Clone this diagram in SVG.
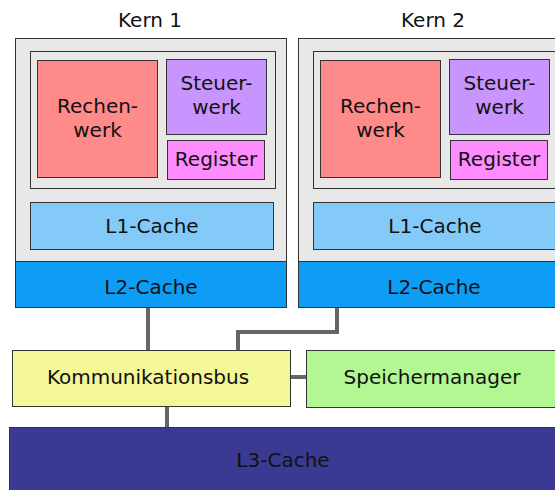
<svg xmlns="http://www.w3.org/2000/svg" width="555" height="490" viewBox="0 0 555 490">
<style>
text{font-family:"DejaVu Sans","Noto Sans",sans-serif;font-size:20px;fill:#111;text-anchor:middle}
rect{stroke:#333;stroke-width:1}
.outer{fill:#e8e8e8}
.rw{fill:#ff8a8a}
.sw{fill:#c895ff}
.reg{fill:#ff8cff}
.l1{fill:#84caf9}
.l2{fill:#0d9df5}
.bus{fill:#f3f796}
.mem{fill:#b2f792}
.l3{fill:#3a3a93}
.conn{fill:none;stroke:#666;stroke-width:4}
</style>
<g id="connectors">
<path class="conn" d="M148,307 V350"/>
<path class="conn" d="M337,307 V332 H238 V350"/>
<path class="conn" d="M291,377 H307"/>
<path class="conn" d="M167,407 V427"/>
</g>
<g id="kern1">
<text x="150" y="27">Kern 1</text>
<rect class="outer" x="15.5" y="38.5" width="271" height="269"/>
<rect class="outer" x="30.5" y="51.5" width="245" height="137"/>
<g id="rechenwerk1"><rect class="rw" x="37.5" y="60.5" width="120" height="117"/><text x="97.5" y="113">Rechen-</text><text x="97.5" y="137">werk</text></g>
<g id="steuerwerk1"><rect class="sw" x="166.5" y="59.5" width="100" height="75"/><text x="216.5" y="90">Steuer-</text><text x="216.5" y="114">werk</text></g>
<g id="register1"><rect class="reg" x="167.5" y="140.5" width="97" height="39"/><text x="216" y="166">Register</text></g>
<g id="l1cache1"><rect class="l1" x="30.5" y="202.5" width="243" height="47"/><text x="152" y="233">L1-Cache</text></g>
<g id="l2cache1"><rect class="l2" x="15.5" y="261.5" width="271" height="46"/><text x="151" y="294">L2-Cache</text></g>
</g>
<g id="kern2" transform="translate(283,0)">
<text x="150" y="27">Kern 2</text>
<rect class="outer" x="15.5" y="38.5" width="271" height="269"/>
<rect class="outer" x="30.5" y="51.5" width="245" height="137"/>
<g id="rechenwerk2"><rect class="rw" x="37.5" y="60.5" width="120" height="117"/><text x="97.5" y="113">Rechen-</text><text x="97.5" y="137">werk</text></g>
<g id="steuerwerk2"><rect class="sw" x="166.5" y="59.5" width="100" height="75"/><text x="216.5" y="90">Steuer-</text><text x="216.5" y="114">werk</text></g>
<g id="register2"><rect class="reg" x="167.5" y="140.5" width="97" height="39"/><text x="216" y="166">Register</text></g>
<g id="l1cache2"><rect class="l1" x="30.5" y="202.5" width="243" height="47"/><text x="152" y="233">L1-Cache</text></g>
<g id="l2cache2"><rect class="l2" x="15.5" y="261.5" width="271" height="46"/><text x="151" y="294">L2-Cache</text></g>
</g>
<g id="bus"><rect class="bus" x="12.5" y="350.5" width="278" height="56"/><text x="148" y="384">Kommunikationsbus</text></g>
<g id="speichermanager"><rect class="mem" x="306.5" y="350.5" width="252" height="57"/><text x="432" y="384">Speichermanager</text></g>
<g id="l3cache"><rect class="l3" x="9.5" y="427.5" width="550" height="70"/><text x="283" y="467">L3-Cache</text></g>
</svg>
